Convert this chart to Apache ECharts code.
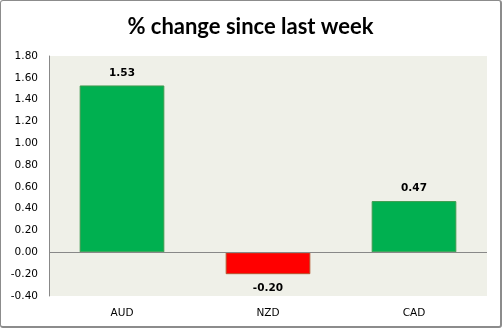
<!DOCTYPE html>
<html><head><meta charset="utf-8">
<script src="https://cdn.jsdelivr.net/npm/echarts@6/dist/echarts.min.js"></script>
<style>
html,body{margin:0;padding:0;background:#fff;}
#wrap{position:absolute;left:0;top:0;width:499px;height:325px;border:1px solid #8c8c8c;border-right:2px solid #8c8c8c;border-bottom:2px solid #8c8c8c;border-radius:3px;}
#c{width:499px;height:325px;}
</style></head>
<body><div id="wrap"><div id="c"></div></div>
<script>
var categories = ['AUD', 'NZD', 'CAD'];
var values = [1.53, -0.20, 0.47];
var chartTitle = '% change since last week';

var chart = echarts.init(document.getElementById('c'), null, {renderer: 'canvas'});
chart.setOption({
  animation: false,
  title: {
    text: chartTitle, left: 'center', top: 10,
    textStyle: {fontFamily: 'Lato, "Open Sans", sans-serif', fontSize: 22, fontWeight: 'bold', color: '#000'}
  },
  grid: {left: 48, right: 13, top: 55, bottom: 30, show: true, backgroundColor: '#eff0e8', borderWidth: 0},
  xAxis: {
    type: 'category', data: categories,
    axisLine: {show: false, onZero: false}, axisTick: {show: false},
    axisLabel: {margin: 12, fontFamily: '"DejaVu Sans", sans-serif', fontSize: 10.5, color: '#000'}
  },
  yAxis: {
    type: 'value', min: -0.4, max: 1.8, interval: 0.2,
    axisLine: {show: true, lineStyle: {color: '#888', width: 1}},
    axisTick: {show: false}, splitLine: {show: false},
    axisLabel: {margin: 11, fontFamily: '"DejaVu Sans", sans-serif', fontSize: 10.5, color: '#000',
      formatter: function (v) { return v.toFixed(2); }}
  },
  series: [{
    type: 'bar', barWidth: '58%',
    data: values.map(function (v) {
      return {
        value: v,
        itemStyle: v >= 0 ? {color: '#00b050', borderColor: '#3f9b4f', borderWidth: 1}
                          : {color: '#ff0000', borderColor: '#b5552e', borderWidth: 1},
        label: {position: v >= 0 ? 'top' : 'bottom', distance: v >= 0 ? 7 : 9}
      };
    }),
    label: {show: true, fontFamily: '"DejaVu Sans", sans-serif', fontSize: 10.5, fontWeight: 'bold', color: '#000',
      formatter: function (p) { return p.value.toFixed(2); }},
    markLine: {
      silent: true, symbol: 'none', label: {show: false},
      lineStyle: {color: '#888', width: 1, type: 'solid'},
      data: [{yAxis: 0}]
    }
  }]
});
</script></body></html>
